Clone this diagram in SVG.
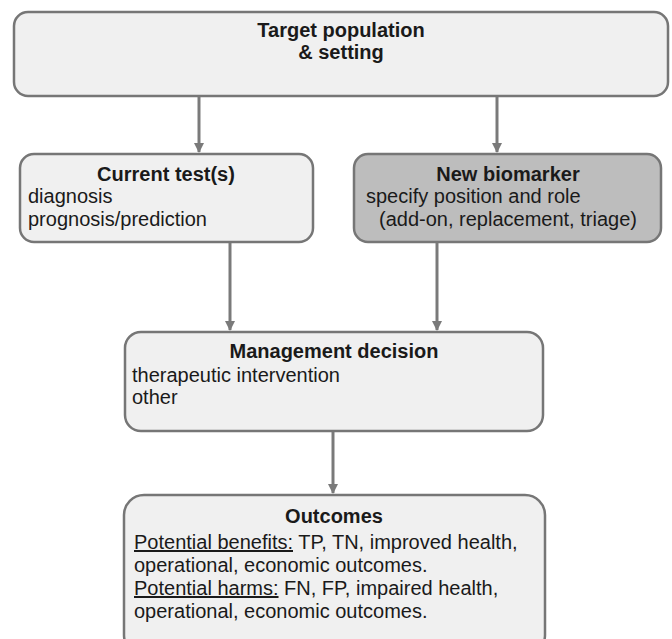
<svg xmlns="http://www.w3.org/2000/svg" width="672" height="639" viewBox="0 0 672 639">
<defs>
<marker id="ah" markerWidth="11" markerHeight="10" refX="9" refY="5" orient="auto" markerUnits="userSpaceOnUse">
<path d="M0,0 L10,5 L0,10 Z" fill="#7a7a7a"/>
</marker>
<style>
.box{fill:#f0f0f0;stroke:#767676;stroke-width:2.5}
.dark{fill:#bdbdbd}
.t{font-family:"Liberation Sans",Arial,sans-serif;font-size:20px;fill:#1a1a1a}
.b{font-weight:bold;text-anchor:middle}
.c{stroke:#7a7a7a;stroke-width:3;fill:none}
</style>
</defs>
<rect width="672" height="639" fill="#ffffff"/>
<g id="target">
<rect class="box" x="14" y="12" width="654" height="84" rx="14"/>
<text class="t b" x="341" y="37">Target population</text>
<text class="t b" x="341" y="59">&amp; setting</text>
</g>
<g id="current">
<rect class="box" x="20" y="154" width="293" height="88" rx="14"/>
<text class="t b" x="166" y="181">Current test(s)</text>
<text class="t" x="28" y="203">diagnosis</text>
<text class="t" x="28" y="226">prognosis/prediction</text>
</g>
<g id="newbio">
<rect class="box dark" x="354" y="154" width="307" height="88" rx="14"/>
<text class="t b" x="508" y="181">New biomarker</text>
<text class="t" x="366" y="203">specify position and role</text>
<text class="t" x="379" y="226">(add-on, replacement, triage)</text>
</g>
<g id="management">
<rect class="box" x="125" y="332" width="418" height="99" rx="16"/>
<text class="t b" x="334" y="358">Management decision</text>
<text class="t" x="132" y="382">therapeutic intervention</text>
<text class="t" x="132" y="404">other</text>
</g>
<g id="outcomes">
<rect class="box" x="124" y="495" width="421" height="160" rx="20"/>
<text class="t b" x="334" y="523">Outcomes</text>
<text class="t" x="134" y="549"><tspan text-decoration="underline">Potential benefits:</tspan> TP, TN, improved health,</text>
<text class="t" x="134" y="572">operational, economic outcomes.</text>
<text class="t" x="134" y="595"><tspan text-decoration="underline">Potential harms:</tspan> FN, FP, impaired health,</text>
<text class="t" x="134" y="618">operational, economic outcomes.</text>
</g>
<g id="connectors">
<line class="c" x1="199" y1="97" x2="199" y2="152" marker-end="url(#ah)"/>
<line class="c" x1="497" y1="97" x2="497" y2="152" marker-end="url(#ah)"/>
<line class="c" x1="230" y1="243" x2="230" y2="330" marker-end="url(#ah)"/>
<line class="c" x1="437" y1="243" x2="437" y2="330" marker-end="url(#ah)"/>
<line class="c" x1="333" y1="432" x2="333" y2="493" marker-end="url(#ah)"/>
</g>
</svg>
